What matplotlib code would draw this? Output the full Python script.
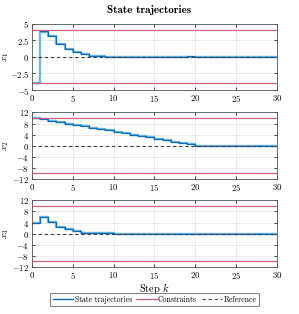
import numpy as np
import matplotlib.pyplot as plt
from matplotlib.ticker import FuncFormatter

plt.rcParams['font.family'] = 'serif'
plt.rcParams['font.serif'] = ['cmr10']
plt.rcParams['mathtext.fontset'] = 'cm'
plt.rcParams['axes.formatter.use_mathtext'] = True
plt.rcParams['font.size'] = 6

# datos
k = np.arange(0, 31)
x1_a = [-4, 3.7, 3.2, 2.0, 1.2, 0.75, 0.4, 0.2, 0.1, 0.05, 0.0, 0, 0, 0, 0, 0, 0, 0, 0, 0.05,
        -0.05, -0.1, -0.05, 0, 0, 0, 0, 0, 0, 0, 0]
x1_b = [np.nan, 3.85, 3.2, 2.0, 1.2, 0.75, 0.4, 0.2, 0.1, 0.05, 0.0, 0, 0, 0, 0, 0, 0, 0, 0, 0.1,
        -0.05, -0.1, -0.1, 0, 0, 0, 0, 0, 0, 0, 0]
x2_a = [10, 9.5, 9.0, 8.5, 8.0, 7.5, 7.0, 6.5, 6.0, 5.5, 5.0, 4.5, 4.0, 3.5, 3.0, 2.5, 2.0,
        1.5, 1.0, 0.5, 0, 0, 0, 0, 0, 0, 0, 0, 0, 0, 0]
x2_b = x2_a
x3_a = [4, 6, 4.2, 2.5, 1.5, 0.8, 0.4, 0.2, 0.1, 0.05, 0, 0, 0, 0, 0, 0, 0, 0, 0, 0, 0, 0, 0,
        0, 0, 0, 0, 0, 0, 0, 0]
x3_b = x3_a

x_max = [4, 10, 10]
ylims = [(-5, 5), (-12, 12), (-12, 12)]
yticks = [[-5, -2.5, 0, 2.5, 5], [-12, -8, -4, 0, 4, 8, 12], [-12, -8, -4, 0, 4, 8, 12]]
ylabels = ['$x_1$', '$x_2$', '$x_3$']
series = [(x1_a, x1_b), (x2_a, x2_b), (x3_a, x3_b)]

fmt = FuncFormatter(lambda v, p: '$%g$' % v)

fig = plt.figure(figsize=(2.99, 3.14), dpi=100)
bottoms = [0.713, 0.430, 0.150]
axes = [fig.add_axes([0.107, b, 0.819, 0.212]) for b in bottoms]

for i, ax in enumerate(axes):
    a, b = series[i]
    ax.grid(True, color='#e6e6e6', linewidth=0.6)
    ax.set_axisbelow(True)
    l1, = ax.step(k, a, where='post', color='#6fb3e0', lw=1.7)
    ax.step(k, b, where='post', color='#0b6cb8', lw=0.8)
    l2 = ax.axhline(x_max[i], color='#c9637e', lw=0.9)
    ax.axhline(-x_max[i], color='#c9637e', lw=0.9)
    l3 = ax.axhline(0, color='#404040', lw=0.8, ls=(0, (3, 2.5)))
    ax.set_xlim(0, 30)
    ax.set_ylim(*ylims[i])
    ax.set_yticks(yticks[i])
    ax.set_xticks([0, 5, 10, 15, 20, 25, 30])
    ax.xaxis.set_major_formatter(fmt)
    ax.yaxis.set_major_formatter(fmt)
    ax.set_ylabel(ylabels[i], fontsize=7)
    ax.yaxis.set_label_coords(-0.085, 0.5)
    ax.tick_params(length=2, width=0.5, pad=2, direction='in', labelsize=6.3,
                   top=True, right=True)
    for s in ax.spines.values():
        s.set_linewidth(0.6)
        s.set_color('#555555')

axes[2].set_xlabel('Step $k$', fontsize=7.5, labelpad=0)
fig.suptitle('State trajectories', fontsize=8, fontfamily='cmb10', y=0.985)

leg = fig.legend([l1, l2, l3], ['State trajectories', 'Constraints', 'Reference'],
                 loc='lower center', bbox_to_anchor=(0.517, 0.012), ncol=3,
                 fontsize=5.6, handlelength=2.6, handletextpad=0.2, columnspacing=0.6,
                 fancybox=False, edgecolor='#444444', borderpad=0.3)
leg.get_frame().set_linewidth(0.6)
leg.legend_handles[0].set_color('#0b6cb8')
leg.legend_handles[0].set_linewidth(1.0)

fig.savefig('out.png', dpi=100)
